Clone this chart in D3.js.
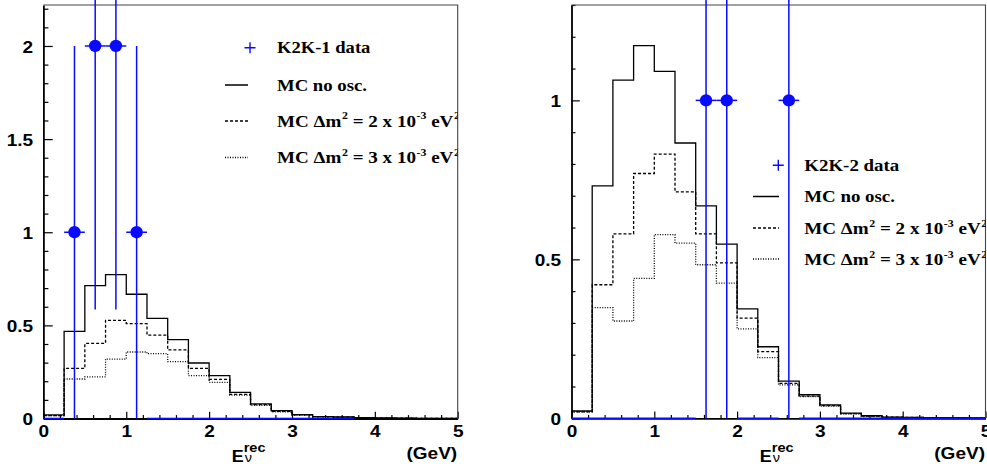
<!DOCTYPE html>
<html>
<head>
<meta charset="utf-8">
<script src="https://cdn.jsdelivr.net/npm/d3@7"></script>
<style>
  body { margin: 0; background: #fff; }
  svg { display: block; }
</style>
</head>
<body>
<svg id="chart" width="987" height="468"></svg>
<script>
// Reconstructed-energy bins (GeV), 0.25 GeV wide
const binEdges = [0, 0.25, 0.5, 0.75, 1, 1.25, 1.5, 1.75, 2, 2.25, 2.5, 2.75, 3, 3.25, 3.5, 3.75, 4, 4.25, 4.5, 4.75, 5];

// K2K-1: observed events per bin and MC expectations
const k2k1Data   = [0, 1, 2, 2, 1, 0, 0, 0, 0, 0, 0, 0, 0, 0, 0];
const k2k1NoOsc  = [0.02, 0.468, 0.713, 0.772, 0.667, 0.538, 0.423, 0.298, 0.23, 0.14, 0.078, 0.042, 0.021, 0.01, 0.008, 0.004, 0.003, 0.002, 0.001, 0.001];
const k2k1Dm2e3  = [0.015, 0.269, 0.403, 0.527, 0.509, 0.448, 0.368, 0.269, 0.21, 0.13, 0.074, 0.038, 0.019, 0.009, 0.007, 0.003, 0.002, 0.002, 0.001, 0.001];
const k2k1Dm3e3  = [0.015, 0.212, 0.224, 0.319, 0.357, 0.348, 0.305, 0.23, 0.194, 0.125, 0.071, 0.036, 0.018, 0.009, 0.007, 0.003, 0.002, 0.002, 0.001, 0.001];

// K2K-2: observed events per bin and MC expectations
const k2k2Data   = [0, 0, 0, 0, 0, 0, 1, 1, 0, 0, 1, 0, 0, 0, 0, 0, 0, 0, 0, 0];
const k2k2NoOsc  = [0.023, 0.731, 1.064, 1.172, 1.091, 0.866, 0.668, 0.548, 0.344, 0.225, 0.117, 0.074, 0.042, 0.016, 0.008, 0.004, 0.003, 0.002, 0.002, 0.001];
const k2k2Dm2e3  = [0.02, 0.42, 0.58, 0.77, 0.831, 0.712, 0.58, 0.489, 0.315, 0.21, 0.11, 0.07, 0.04, 0.015, 0.007, 0.004, 0.003, 0.002, 0.001, 0.001];
const k2k2Dm3e3  = [0.02, 0.348, 0.306, 0.44, 0.578, 0.551, 0.483, 0.425, 0.281, 0.191, 0.105, 0.068, 0.038, 0.014, 0.007, 0.003, 0.002, 0.002, 0.001, 0.001];

// Axis ticks and labels
const xTicks = [0, 1, 2, 3, 4, 5];
const xTickLabels = ["0", "1", "2", "3", "4", "5"];
const yTicksK2K1 = [0, 0.5, 1, 1.5, 2];
const yTickLabelsK2K1 = ["0", "0.5", "1", "1.5", "2"];
const yTicksK2K2 = [0, 0.5, 1];
const yTickLabelsK2K2 = ["0", "0.5", "1"];

// Legend entries
const legendK2K1 = ["K2K-1 data", "MC no osc.", "MC \u0394m2 = 2 x 10-3 eV2", "MC \u0394m2 = 3 x 10-3 eV2"];
const legendK2K2 = ["K2K-2 data", "MC no osc.", "MC \u0394m2 = 2 x 10-3 eV2", "MC \u0394m2 = 3 x 10-3 eV2"];

const BLUE = "#0a0aff";
const SANS = "'Liberation Sans', Arial, Helvetica, sans-serif";
const SERIF = "'Liberation Serif', 'Times New Roman', Times, serif";

const svg = d3.select("#chart");
const defs = svg.append("defs");

const panels = [
  {
    id: "k2k1", x0: 43.4, x1: 457.7, yBase: 418.5, yTop: 5, yMax: 2.22,
    yTicks: yTicksK2K1, yLabels: yTickLabelsK2K1, yMajorLen: 9.3, yMinorLen: 5,
    data: k2k1Data, mc: [k2k1NoOsc, k2k1Dm2e3, k2k1Dm3e3], legend: legendK2K1,
    leg: { lineX: 225, lineW: 23, plusX: 250, textX: 277, rows: [47.8, 85, 121, 157.5], fs: 17,
           widths: [94, 90, 183, 183] }
  },
  {
    id: "k2k2", x0: 571.5, x1: 985.5, yBase: 418.3, yTop: 5, yMax: 1.3,
    yTicks: yTicksK2K2, yLabels: yTickLabelsK2K2, yMajorLen: 8.3, yMinorLen: 4,
    data: k2k2Data, mc: [k2k2NoOsc, k2k2Dm2e3, k2k2Dm3e3], legend: legendK2K2,
    leg: { lineX: 753, lineW: 26, plusX: 778.3, textX: 804.3, rows: [165.3, 196.5, 228, 259], fs: 16.5,
           widths: [95, 90.7, 183, 183] }
  }
];

const mcStyles = [
  { dash: null },
  { dash: "3,2" },
  { dash: "1,1.5" }
];

const AXIS_SX = 1.12;

panels.forEach(p => {
  const x = d3.scaleLinear().domain([0, 5]).range([p.x0, p.x1]);
  const y = d3.scaleLinear().domain([0, p.yMax]).range([p.yBase, p.yTop]);
  const g = svg.append("g").attr("class", p.id);

  // MC histograms as step outlines
  const line = d3.line().x(d => x(d[0])).y(d => y(d[1])).curve(d3.curveStepAfter);
  p.mc.forEach((vals, k) => {
    const pts = vals.map((v, i) => [binEdges[i], v]);
    pts.push([binEdges[vals.length], vals[vals.length - 1]]);
    g.append("path")
      .attr("d", line(pts))
      .attr("fill", "none")
      .attr("stroke", "#000")
      .attr("stroke-width", 1.3)
      .attr("stroke-dasharray", mcStyles[k].dash);
  });

  // Axes (ticks drawn inside the frame)
  const minorX = d3.range(0, 5.001, 0.2).filter(v => Math.abs(v - Math.round(v)) > 1e-6);
  const minorY = d3.range(0, p.yMax + 1e-6, 0.1).filter(v => Math.abs(v * 2 - Math.round(v * 2)) > 1e-6);

  const gx = g.append("g").attr("transform", `translate(0,${p.yBase})`)
    .call(d3.axisBottom(x).tickValues(xTicks).tickFormat((d, i) => xTickLabels[i])
      .tickSizeInner(-6.7).tickSizeOuter(0));
  g.append("g").attr("transform", `translate(0,${p.yBase})`)
    .call(d3.axisBottom(x).tickValues(minorX).tickFormat("").tickSizeInner(-3.4).tickSizeOuter(0))
    .call(s => { s.select(".domain").remove(); s.selectAll("text").remove(); });

  const gy = g.append("g").attr("transform", `translate(${p.x0},0)`)
    .call(d3.axisLeft(y).tickValues(p.yTicks).tickFormat((d, i) => p.yLabels[i])
      .tickSizeInner(-p.yMajorLen).tickSizeOuter(0));
  g.append("g").attr("transform", `translate(${p.x0},0)`)
    .call(d3.axisLeft(y).tickValues(minorY).tickFormat("").tickSizeInner(-p.yMinorLen).tickSizeOuter(0))
    .call(s => { s.select(".domain").remove(); s.selectAll("text").remove(); });

  g.selectAll(".tick line").attr("stroke", "#000").attr("stroke-width", 1.2);
  [gx, gy].forEach(a => a.select(".domain").attr("stroke", "#000").attr("stroke-width", 1.8));

  gx.selectAll(".tick text")
    .attr("y", 0).attr("dy", 0)
    .attr("transform", `translate(0,18.2) scale(${AXIS_SX},1)`)
    .attr("font-family", SANS).attr("font-weight", "bold").attr("font-size", 17).attr("fill", "#000");
  gy.selectAll(".tick text")
    .attr("x", 0).attr("dy", 0)
    .attr("transform", `translate(-10.3,6.2) scale(${AXIS_SX},1)`)
    .attr("text-anchor", "end")
    .attr("font-family", SANS).attr("font-weight", "bold").attr("font-size", 17).attr("fill", "#000");

  // Frame (top and right edges)
  g.append("path")
    .attr("d", `M${p.x0},${p.yTop}H${p.x1}V${p.yBase}`)
    .attr("fill", "none").attr("stroke", "#444").attr("stroke-width", 1.1);

  // Data: Poisson error bars, horizontal half-bin bars and markers
  const half = (binEdges[1] - binEdges[0]) / 2;
  p.data.forEach((n, i) => {
    const cx = (binEdges[i] + binEdges[i + 1]) / 2;
    if (n === 0) {
      g.append("line")
        .attr("x1", x(binEdges[i])).attr("x2", x(binEdges[i + 1]))
        .attr("y1", y(0)).attr("y2", y(0))
        .attr("stroke", BLUE).attr("stroke-width", 1.6);
      return;
    }
    const err = Math.sqrt(n);
    g.append("line")
      .attr("x1", x(cx)).attr("x2", x(cx))
      .attr("y1", y(Math.max(0, n - err))).attr("y2", y(n + err))
      .attr("stroke", BLUE).attr("stroke-width", 1.5);
    g.append("line")
      .attr("x1", x(cx - half)).attr("x2", x(cx + half))
      .attr("y1", y(n)).attr("y2", y(n))
      .attr("stroke", BLUE).attr("stroke-width", 1.5);
    g.append("circle")
      .attr("cx", x(cx)).attr("cy", y(n)).attr("r", 6.2)
      .attr("fill", BLUE);
  });

  // Axis titles
  const ex = p.x0 + 188.3;
  const et = g.append("text")
    .attr("transform", `translate(${ex},461.7) scale(${AXIS_SX},1)`)
    .attr("font-family", SANS).attr("font-weight", "bold").attr("fill", "#000").attr("font-size", 16);
  et.append("tspan").text("E");
  et.append("tspan").attr("dx", 1).attr("font-size", 13).attr("font-weight", "normal").text("\u03bd");
  et.append("tspan").attr("dx", -7.5).attr("dy", -10.2).attr("font-size", 13).text("rec");
  g.append("text").attr("transform", `translate(${p.x1 - 0.5},458.8) scale(${AXIS_SX},1)`)
    .attr("font-family", SANS).attr("font-weight", "bold").attr("fill", "#000")
    .attr("text-anchor", "end").attr("font-size", 17).text("(GeV)");

  // Legend, clipped at the frame's right edge
  const clipId = "clip-" + p.id;
  defs.append("clipPath").attr("id", clipId)
    .append("rect").attr("x", p.x0).attr("y", 0).attr("width", p.x1 - p.x0).attr("height", p.yBase);
  const lg = g.append("g").attr("clip-path", `url(#${clipId})`);
  const L = p.leg;

  // data entry: blue cross
  lg.append("line").attr("x1", L.plusX - 5.5).attr("x2", L.plusX + 5.5)
    .attr("y1", L.rows[0]).attr("y2", L.rows[0]).attr("stroke", BLUE).attr("stroke-width", 1.4);
  lg.append("line").attr("x1", L.plusX).attr("x2", L.plusX)
    .attr("y1", L.rows[0] - 5.5).attr("y2", L.rows[0] + 5.5).attr("stroke", BLUE).attr("stroke-width", 1.4);
  // MC entries: line samples
  [1, 2, 3].forEach(r => {
    lg.append("line").attr("x1", L.lineX).attr("x2", L.lineX + L.lineW)
      .attr("y1", L.rows[r]).attr("y2", L.rows[r])
      .attr("stroke", "#000").attr("stroke-width", 1.3)
      .attr("stroke-dasharray", mcStyles[r - 1].dash);
  });

  p.legend.forEach((label, r) => {
    const t = lg.append("text")
      .attr("font-family", SERIF).attr("font-weight", "bold").attr("font-size", L.fs).attr("fill", "#000");
    if (r < 2) {
      t.text(label);
    } else {
      // "MC Δm2 = N x 10-3 eV2" with superscripts
      const m = label.match(/^(MC \u0394m)(2)( = \d x 10)(-3)( eV)(2)$/);
      const parts = [[m[1], false], [m[2], true], [m[3], false], [m[4], true], [m[5], false], [m[6], true]];
      const shift = L.fs * 0.42;
      let raised = false;
      parts.forEach(([s, sup]) => {
        const dy = sup ? (raised ? 0 : -shift) : (raised ? shift : 0);
        raised = sup;
        t.append("tspan")
          .attr("font-size", sup ? L.fs * 0.62 : L.fs)
          .attr("dx", sup ? 0.5 : 0)
          .attr("dy", dy)
          .text(s);
      });
    }
    // stretch each entry horizontally to its measured width
    const w = t.node().getComputedTextLength ? t.node().getBBox().width : L.widths[r];
    const sx = w > 0 ? L.widths[r] / w : 1.1;
    t.attr("transform", `translate(${L.textX},${L.rows[r] + 5.6}) scale(${sx},1)`);
  });
});
</script>
</body>
</html>
